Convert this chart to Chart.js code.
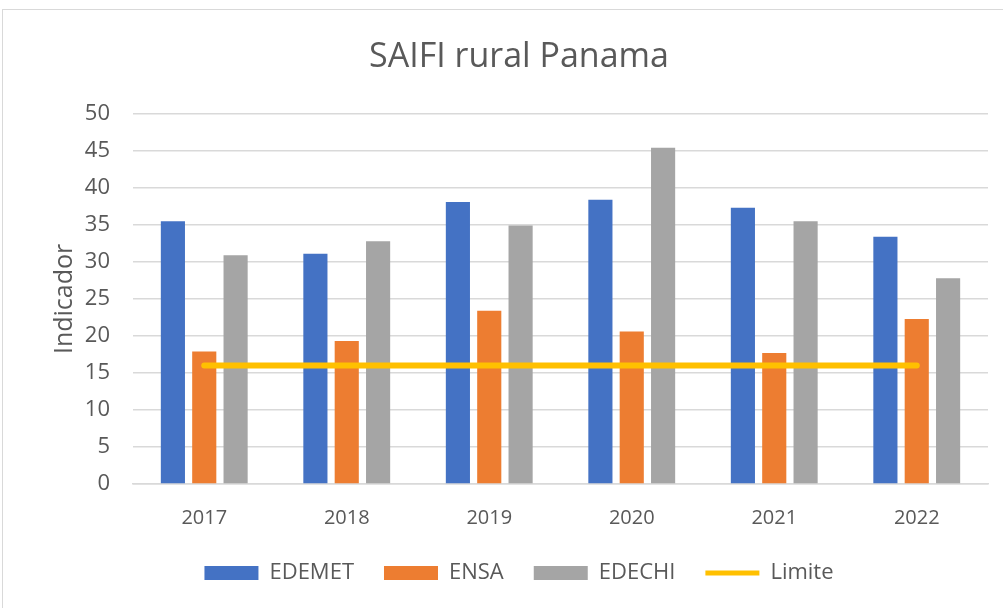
<!DOCTYPE html>
<html>
<head>
<meta charset="utf-8">
<script src="https://cdn.jsdelivr.net/npm/chart.js@4.4.0/dist/chart.umd.min.js"></script>
<style>
  html, body { margin: 0; padding: 0; background: #ffffff; overflow: hidden; }
  #frame { position: absolute; left: 2px; top: 9px; width: 1010px; height: 610px; border: 1px solid #d9d9d9; }
  #wrap { position: absolute; left: 0; top: 0; width: 1003px; height: 608px; }
</style>
</head>
<body>
<div id="frame"></div>
<div id="wrap"><canvas id="saifiChart"></canvas></div>
<script>
const years = ["2017", "2018", "2019", "2020", "2021", "2022"];
const edemet = [35.5, 31.1, 38.1, 38.4, 37.3, 33.4];
const ensa = [17.9, 19.3, 23.4, 20.6, 17.7, 22.3];
const edechi = [30.9, 32.8, 34.9, 45.4, 35.5, 27.8];
const limite = [16, 16, 16, 16, 16, 16];
const yTicks = [0, 5, 10, 15, 20, 25, 30, 35, 40, 45, 50];

document.addEventListener("DOMContentLoaded", function () {
  const ctx = document.getElementById("saifiChart").getContext("2d");

  Chart.defaults.font.family = "'Open Sans', 'Noto Sans', sans-serif";
  Chart.defaults.font.size = 20;
  Chart.defaults.color = "#595959";

  const barStyle = {
    barPercentage: 0.77,
    categoryPercentage: 0.66,
    borderWidth: 0,
    order: 1,
  };

  new Chart(ctx, {
    type: "bar",
    data: {
      labels: years,
      datasets: [
        { label: "EDEMET", data: edemet, backgroundColor: "#4472c4", ...barStyle },
        { label: "ENSA", data: ensa, backgroundColor: "#ed7d31", ...barStyle },
        { label: "EDECHI", data: edechi, backgroundColor: "#a5a5a5", ...barStyle },
        {
          type: "line",
          label: "Limite",
          data: limite,
          borderColor: "#ffc000",
          backgroundColor: "#ffc000",
          borderWidth: 6,
          borderCapStyle: "round",
          pointRadius: 0,
          fill: false,
          order: 0,
        },
      ],
    },
    options: {
      responsive: true,
      maintainAspectRatio: false,
      animation: false,
      layout: { padding: { left: 50, right: 15, top: 0, bottom: 14 } },
      plugins: {
        title: {
          display: true,
          text: "SAIFI rural Panama",
          color: "#595959",
          font: { size: 34, weight: "normal" },
          padding: { top: 37, bottom: 36 },
        },
        legend: {
          position: "bottom",
          labels: {
            usePointStyle: true,
            pointStyleWidth: 54,
            boxHeight: 14,
            padding: 30,
            color: "#595959",
            font: { size: 22 },
            generateLabels: (chart) => {
              const items = Chart.defaults.plugins.legend.labels.generateLabels(chart);
              items.sort((a, b) => a.datasetIndex - b.datasetIndex);
              return items.map((item) => {
                if (item.datasetIndex === 3) {
                  item.pointStyle = "line";
                  item.lineWidth = 5;
                  item.strokeStyle = "#ffc000";
                } else {
                  item.pointStyle = "rect";
                  item.lineWidth = 0;
                }
                return item;
              });
            },
          },
        },
        tooltip: { enabled: false },
      },
      scales: {
        x: {
          grid: { display: false, drawTicks: false },
          border: { display: true, color: "#d9d9d9", width: 1.5 },
          ticks: { padding: 22, color: "#595959", font: { size: 20 } },
          afterFit: (scale) => { scale.height = 48; },
        },
        y: {
          min: 0,
          max: 50,
          afterBuildTicks: (scale) => {
            scale.ticks = yTicks.map((v) => ({ value: v }));
          },
          grid: { color: "#d9d9d9", lineWidth: 1.5, drawTicks: false },
          border: { display: false },
          ticks: { padding: 23, color: "#595959", font: { size: 22 } },
          title: {
            display: true,
            text: "Indicador",
            color: "#595959",
            font: { size: 25 },
            padding: { top: 0, bottom: 10 },
          },
          afterFit: (scale) => { scale.width = 83; },
        },
      },
    },
  });
});
</script>
</body>
</html>
